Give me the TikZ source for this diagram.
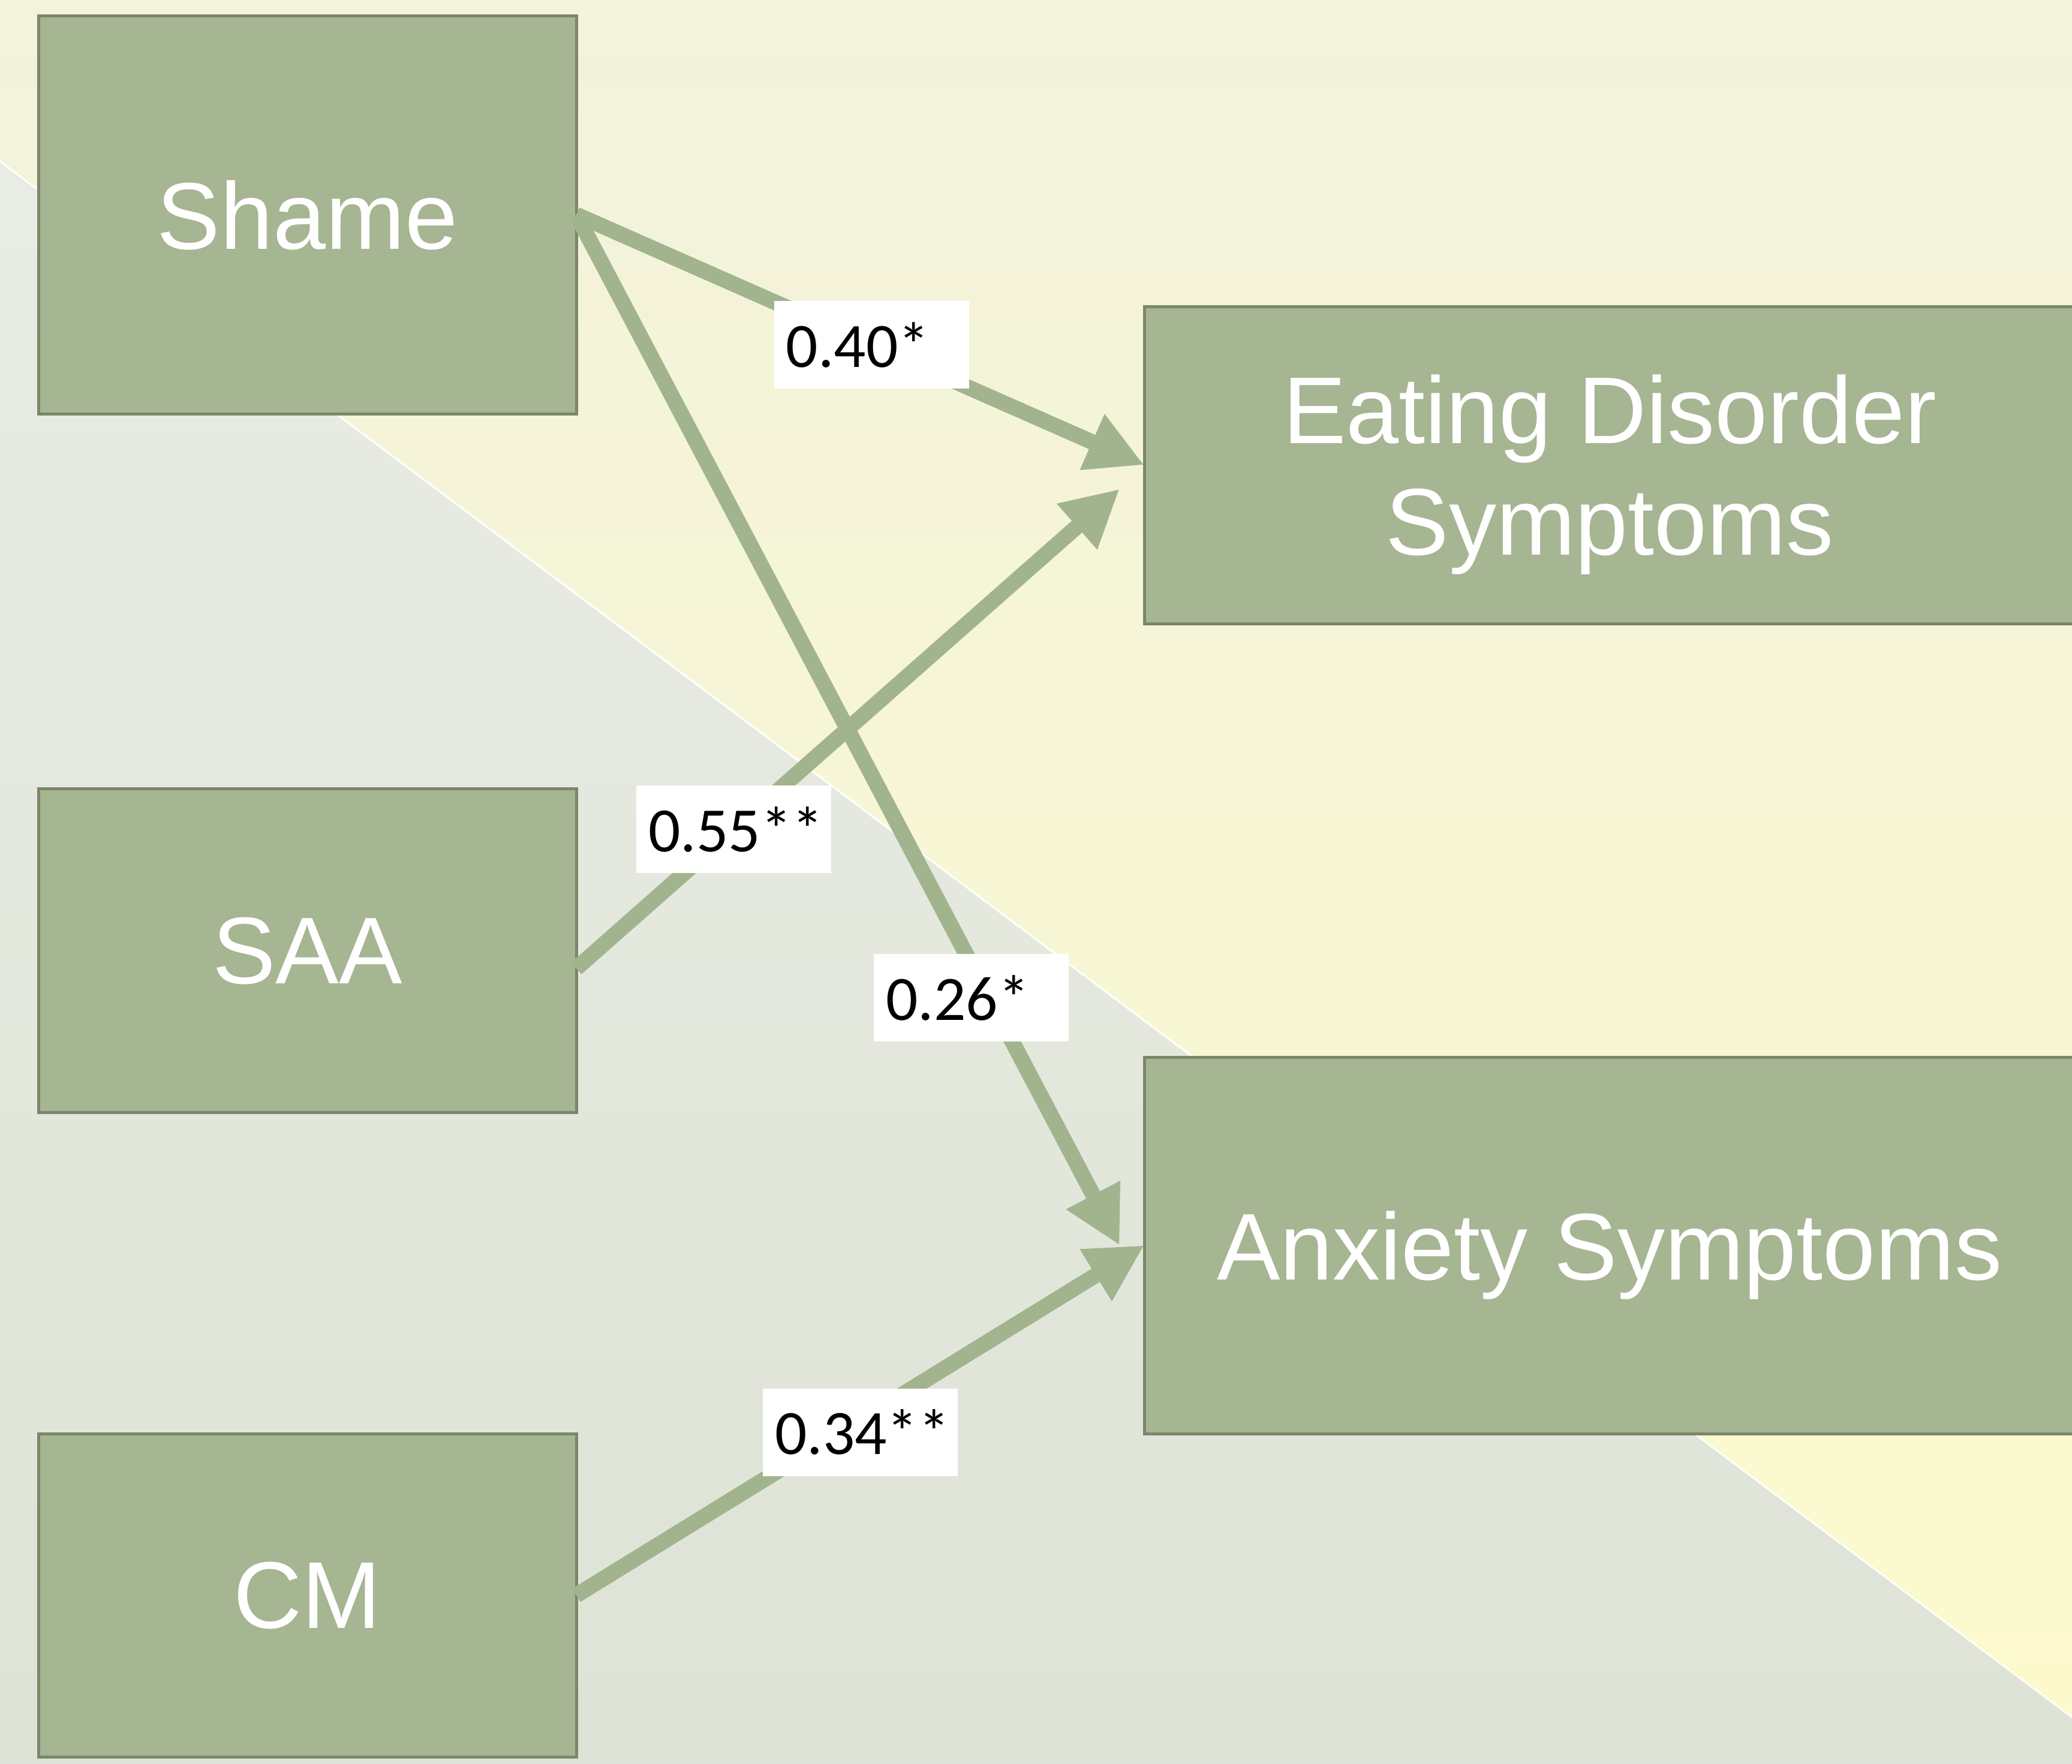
\documentclass[tikz,border=0pt]{standalone}
\usepackage{fontspec}
\setmainfont{Liberation Sans}
\newfontfamily\coeffont{Carlito}
\usetikzlibrary{arrows.meta,positioning}
\definecolor{boxFill}{HTML}{A6B592}
\definecolor{boxLine}{HTML}{7A8769}
\definecolor{arrowCol}{HTML}{A2B48E}
\definecolor{bgTop}{HTML}{F2F2DD}
\definecolor{bgYellow}{HTML}{FCFACD}
\definecolor{bgGreyTop}{HTML}{E9ECE4}
\definecolor{bgGreyBot}{HTML}{DEE3D6}

\begin{document}
\begin{tikzpicture}
	\tikzstyle{var_box}
	  =[draw=boxLine, line width=0.05cm, fill=boxFill, rectangle, text=white,
	  minimum width=8.97cm, outer sep=0pt, text depth=0pt,
	  font=\fontsize{45}{53}\selectfont]
	\tikzstyle{out_box}
	  =[var_box, minimum width=15.52cm, align=center]
	\tikzstyle{coef_box}
	  =[fill=white, rectangle, text width=2.85cm, inner xsep=0.2cm,
	  minimum height=1.46cm, align=left, font=\coeffont\fontsize{30}{36}\selectfont]
	\tikzstyle{path_arrow}
	  =[draw=arrowCol, line width=0.26cm, -{Triangle[length=0.95cm, width=0.95cm]}]

	\useasboundingbox (0,0) rectangle (34.55,-29.41);
	\fill[top color=bgTop, bottom color=bgYellow]
	  (0,0) -- (34.55,0) -- (34.55,-28.64) -- (0,-2.69) -- cycle;
	\fill[top color=bgGreyTop, bottom color=bgGreyBot]
	  (0,-2.69) -- (34.55,-28.64) -- (34.55,-29.41) -- (0,-29.41) -- cycle;
	\draw[white, line width=0.03cm] (0,-2.69) -- (34.55,-28.64);

	\node[var_box, minimum height=6.64cm, anchor=north west] (Shame)
	  at (0.64,-0.26) {Shame};
	\node[var_box, minimum height=5.40cm] (SAA)
	  [below=6.25cm of Shame] {SAA};
	\node[var_box, minimum height=5.39cm] (CM)
	  [below=5.36cm of SAA] {CM};
	\node[out_box, minimum height=5.29cm] (ED)
	  [below right=4.85cm and 9.47cm of Shame.north east] {Eating Disorder\\Symptoms};
	\node[out_box, minimum height=6.28cm] (Anx)
	  [below=7.23cm of ED] {Anxiety Symptoms};

	\coordinate (edTip) at ([shift={(-0.41,-0.40)}]ED.west);
	\coordinate[left=0.41cm of Anx.west] (anxTip);

	\draw[path_arrow] (Shame.east) -- (ED.west)
	  node[coef_box, pos=0.52] (c1) {0.40*};
	\draw[path_arrow] ([yshift=-0.3cm]SAA.east) -- (edTip)
	  node[coef_box, pos=0.29] (c2) {0.55**};
	\draw[path_arrow] (Shame.east) -- (anxTip)
	  node[coef_box, pos=0.76, xshift=-0.3cm] (c3) {0.26*};
	\draw[path_arrow] (CM.east) -- (Anx.west)
	  node[coef_box, pos=0.5, yshift=-0.2cm] (c4) {0.34**};
\end{tikzpicture}
\end{document}
